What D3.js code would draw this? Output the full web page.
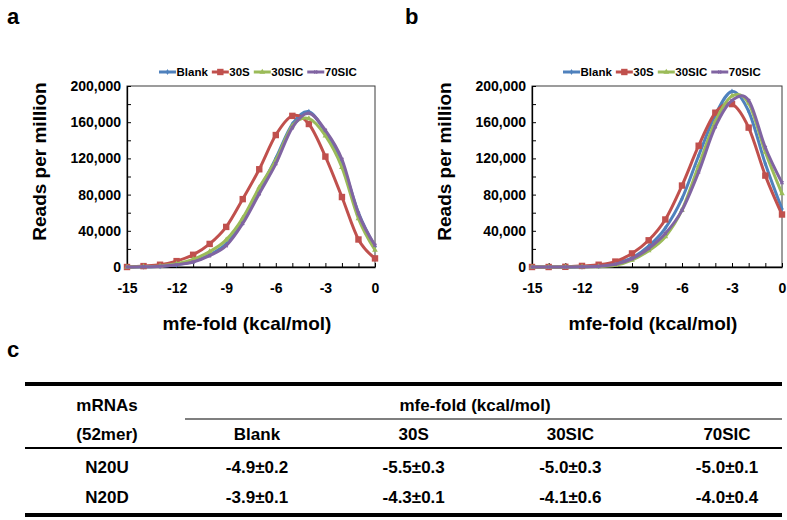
<!DOCTYPE html>
<html><head><meta charset="utf-8">
<script src="https://cdn.jsdelivr.net/npm/d3@7"></script>
<style>
html,body{margin:0;padding:0;background:#fff;}
svg{display:block;font-family:"Liberation Sans",Arial,sans-serif;}
</style></head>
<body><svg id="chart" width="787" height="520"></svg>
<script>
// ---------- data ----------
const xValues = [-15,-14,-13,-12,-11,-10,-9,-8,-7,-6,-5,-4,-3,-2,-1,0];
const seriesNames = ["Blank","30S","30SIC","70SIC"];
const seriesColors = ["#4F81BD","#C0504D","#9BBB59","#8064A2"];

// panel a (N20U)
const aBlank = [0,200,800,2500,6000,13500,25500,50000,84500,120000,158000,171500,149000,115000,60000,22500];
const a30S   = [0,1000,2500,6500,13500,25500,44300,75000,108000,145800,167000,158000,122000,77300,30400,9500];
const a30SIC = [0,500,1200,3500,8500,17000,30000,54000,88000,118000,156000,164000,145000,110000,53500,18700];
const a70SIC = [0,200,800,2500,5500,12500,23500,48000,81000,114000,154000,170000,151000,119000,59000,24000];

// panel b (N20D)
const bBlank = [0,0,0,300,1000,4000,10000,23000,43000,75500,123000,168000,194000,172000,114000,64000];
const b30S   = [0,0,200,1200,2500,6000,15000,29500,52500,90000,134000,170500,180000,154000,101000,58000];
const b30SIC = [0,0,0,300,500,2000,7700,18000,33500,63000,112000,161000,189000,181000,127000,81000];
const b70SIC = [0,0,0,300,800,3000,9000,20500,37000,62600,105000,155000,184000,184000,132000,93000];

const xTicks = [-15,-12,-9,-6,-3,0];
const yTicks = [0,40000,80000,120000,160000,200000];

// table
const tableCols = ["Blank","30S","30SIC","70SIC"];
const tableRows = ["N20U","N20D"];
const rowN20U = ["-4.9±0.2","-5.5±0.3","-5.0±0.3","-5.0±0.1"];
const rowN20D = ["-3.9±0.1","-4.3±0.1","-4.1±0.6","-4.0±0.4"];

// ---------- drawing ----------
const svg = d3.select("#chart");
const FONT = "'Liberation Sans',Arial,sans-serif";

function panel(opts){
  const {x0,x1,y0,y1,data,letter,letterX,titleX,legendX} = opts;
  const g = svg.append("g");
  const x = d3.scaleLinear().domain([-15,0]).range([x0,x1]);
  const y = d3.scaleLinear().domain([0,200000]).range([y1,y0]);

  // frame
  g.append("rect").attr("x",x0).attr("y",y0).attr("width",x1-x0).attr("height",y1-y0)
    .attr("fill","none").attr("stroke","#3a3a3a").attr("stroke-width",1);

  // y axis
  const yAxis = d3.axisLeft(y).tickValues(yTicks).tickFormat(d3.format(",")).tickSize(0).tickPadding(6);
  const ya = g.append("g").attr("transform",`translate(${x0},0)`).call(yAxis);
  ya.select(".domain").attr("stroke","#000").attr("stroke-width",1.3);
  ya.selectAll("text").attr("font-size",14).attr("font-weight","bold").attr("font-family",FONT).attr("fill","#000");
  // minor inward y ticks every 20,000
  const yMinor = d3.axisRight(y).tickValues(d3.range(0,200001,20000)).tickSize(4).tickFormat("");
  const ym = g.append("g").attr("transform",`translate(${x0},0)`).call(yMinor);
  ym.select(".domain").remove();
  ym.selectAll("line").attr("stroke","#000");

  // x axis
  const xAxis = d3.axisBottom(x).tickValues(xTicks).tickSize(0).tickPadding(16)
    .tickFormat(d=>String(d));
  const xa = g.append("g").attr("transform",`translate(0,${y1})`).call(xAxis);
  xa.select(".domain").attr("stroke","#000").attr("stroke-width",1.3);
  xa.selectAll("text").attr("font-size",14).attr("font-weight","bold").attr("font-family",FONT).attr("fill","#000");
  const xMinor = d3.axisTop(x).tickValues(xValues).tickSize(4).tickFormat("");
  const xm = g.append("g").attr("transform",`translate(0,${y1})`).call(xMinor);
  xm.select(".domain").remove();
  xm.selectAll("line").attr("stroke","#000");

  // axis titles
  g.append("text").attr("x",(x0+x1)/2 - 4).attr("y",330).attr("text-anchor","middle")
    .attr("font-size",19).attr("font-weight","bold").text("mfe-fold (kcal/mol)");
  g.append("text").attr("transform",`translate(${titleX},${(y0+y1)/2 - 15}) rotate(-90)`)
    .attr("text-anchor","middle").attr("dy","0.35em")
    .attr("font-size",19).attr("font-weight","bold").text("Reads per million");

  // panel letter
  svg.append("text").attr("x",letterX).attr("y",24).attr("font-size",22).attr("font-weight","bold").text(letter);

  // lines
  const line = d3.line().x((d,i)=>x(xValues[i])).y(d=>y(d)).curve(d3.curveCardinal.tension(0));
  data.forEach((vals,si)=>{
    g.append("path").datum(vals).attr("d",line).attr("fill","none")
      .attr("stroke",seriesColors[si]).attr("stroke-width",3).attr("stroke-linejoin","round");
    const pts = g.append("g");
    vals.forEach((v,i)=>drawMarker(pts, si, x(xValues[i]), y(v)));
  });

  // legend
  const lg = svg.append("g");
  let cx = legendX;
  seriesNames.forEach((name,si)=>{
    lg.append("line").attr("x1",cx).attr("x2",cx+17).attr("y1",72).attr("y2",72)
      .attr("stroke",seriesColors[si]).attr("stroke-width",3);
    drawMarker(lg, si, cx+8.5, 72);
    const t = lg.append("text").attr("x",cx+17.5).attr("y",76).attr("font-size",11.5)
      .attr("font-weight","bold").text(name);
    cx += 17.5 + t.node().getComputedTextLength() + 4;
  });
}

function drawMarker(sel, si, cx, cy){
  const c = seriesColors[si];
  if(si===1){
    sel.append("rect").attr("x",cx-3.2).attr("y",cy-3.2).attr("width",6.4).attr("height",6.4).attr("fill",c);
  } else if(si===2){
    sel.append("path").attr("d",d3.symbol(d3.symbolTriangle,14)()).attr("transform",`translate(${cx},${cy})`).attr("fill",c);
  } else if(si===0){
    sel.append("path").attr("d",d3.symbol(d3.symbolDiamond,10)()).attr("transform",`translate(${cx},${cy})`).attr("fill",c);
  } else {
    sel.append("path").attr("d",d3.symbol(d3.symbolCross,10)()).attr("transform",`translate(${cx},${cy}) rotate(45)`).attr("fill",c);
  }
}

panel({x0:127,x1:375,y0:86,y1:267,data:[aBlank,a30S,a30SIC,a70SIC],letter:"a",letterX:7,titleX:39,legendX:159});
panel({x0:532,x1:782,y0:86,y1:267,data:[bBlank,b30S,b30SIC,b70SIC],letter:"b",letterX:405,titleX:444,legendX:563});

// ---------- table ----------
svg.append("text").attr("x",7).attr("y",357).attr("font-size",22).attr("font-weight","bold").text("c");
const tg = svg.append("g").attr("font-size",17).attr("font-weight","bold").attr("text-anchor","middle");
const L = 25, R = 782;
tg.append("line").attr("x1",L).attr("x2",R).attr("y1",384).attr("y2",384).attr("stroke","#000").attr("stroke-width",4);
tg.append("line").attr("x1",185).attr("x2",R).attr("y1",419).attr("y2",419).attr("stroke","#000").attr("stroke-width",1.2);
tg.append("line").attr("x1",L).attr("x2",R).attr("y1",448).attr("y2",448).attr("stroke","#000").attr("stroke-width",2.2);
tg.append("line").attr("x1",L).attr("x2",R).attr("y1",515).attr("y2",515).attr("stroke","#000").attr("stroke-width",4);

const colX = d3.scalePoint().domain(tableCols).range([257,727]);
function cell(txt, cx, cy){
  tg.append("text").attr("x",cx).attr("y",cy).attr("dy","0.35em").text(txt);
}
cell("mRNAs",107,405);
cell("(52mer)",107,434);
cell("mfe-fold (kcal/mol)",475,405);
tableCols.forEach(c=>cell(c,colX(c),434));
const rowsVals = [rowN20U,rowN20D];
const rowY = [467,497];
tableRows.forEach((r,ri)=>{
  cell(r,107,rowY[ri]);
  rowsVals[ri].forEach((v,ci)=>cell(v,colX(tableCols[ci]),rowY[ri]));
});
</script></body></html>
